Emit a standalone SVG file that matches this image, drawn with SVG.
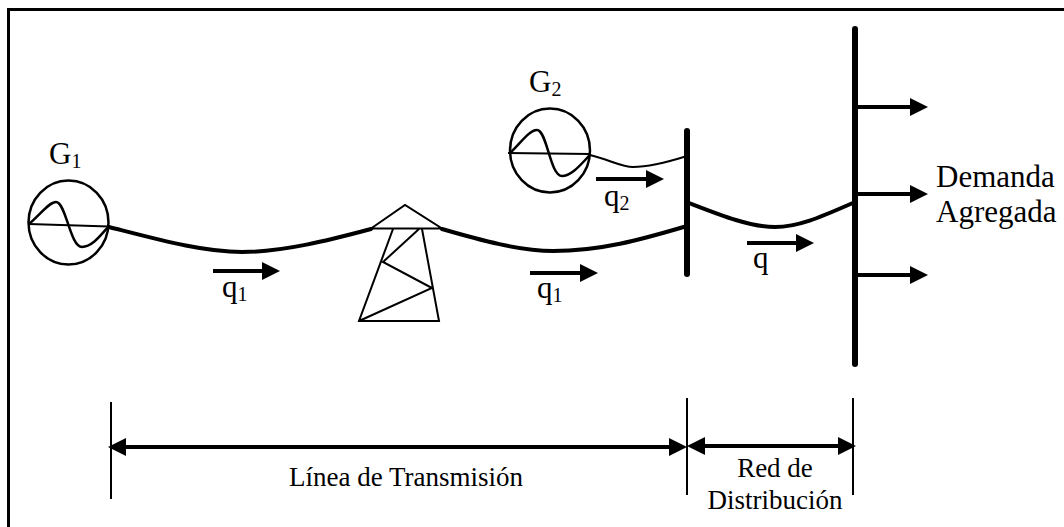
<svg xmlns="http://www.w3.org/2000/svg" width="1064" height="527" viewBox="0 0 1064 527">
<style>
text{font-family:"Liberation Serif","Times New Roman",serif;fill:#000}
.lbl{font-size:31px}
.sub{font-size:20px}
.small{font-size:27px}
.n{fill:none;stroke:#000}
.t1{stroke-width:2}
.w{stroke-width:2.5}
.wire{stroke-width:4;stroke-linecap:round}
.bus{stroke-width:6;stroke-linecap:round}
.arr{stroke-width:4}
</style>
<defs>
<marker id="ah" markerUnits="userSpaceOnUse" markerWidth="18" markerHeight="18" refX="10" refY="9" orient="auto-start-reverse"><path d="M0 0L18 9L0 18Z" fill="#000"/></marker>
</defs>
<rect width="1064" height="527" fill="#fff"/>
<path id="frame" d="M8.5 527V9.5H1064" fill="none" stroke="#000" stroke-width="3"/>
<g id="G1">
<ellipse class="n w" cx="68.5" cy="222.5" rx="40" ry="42"/>
<path class="n t1" d="M29 224L109 226.5"/>
<path class="n w" d="M29 224C40 215 49 202 56 202C66 202 70 247 82 247C92 247 100 236 109 226"/>
<text class="lbl" x="49" y="164">G<tspan class="sub" dy="4">1</tspan></text>
</g>
<g id="G2">
<ellipse class="n w" cx="550" cy="150.5" rx="40" ry="42"/>
<path class="n t1" d="M508 153L590 154"/>
<path class="n w" d="M510 153C520 144 529 130 537 130C547 130 550 176 562 176C572 176 581 164 590 155"/>
<text class="lbl" x="529" y="92">G<tspan class="sub" dy="4">2</tspan></text>
</g>
<g id="tower">
<path class="n t1" d="M371 228.500L405 205L442 228.500ZM393 229L359 321H439L422 229M419 229L383 262L432 288L359 321"/>
</g>
<g id="bus1"><path class="n bus" d="M687 131V274"/></g>
<g id="bus2"><path class="n bus" d="M855 29V364"/></g>
<g id="connectors">
<path class="n wire" d="M109 227C160 240 203 252 242 252C283 252 330 240 371 229"/>
<path class="n wire" d="M442 229C480 240 520 251 553 251C600 251 640 240 687 226"/>
<path class="n" stroke-width="2" d="M590 155C610 160 622 167 633 167C650 167 668 162 687 156"/>
<path class="n wire" d="M689 203C720 215 750 227 775 227C800 227 825 215 855 202"/>
<path class="n arr" marker-end="url(#ah)" d="M213 271H272"/>
<path class="n arr" marker-end="url(#ah)" d="M530 273H590"/>
<path class="n arr" marker-end="url(#ah)" d="M596 179H656"/>
<path class="n arr" marker-end="url(#ah)" d="M747 243H806"/>
<path class="n arr" marker-end="url(#ah)" d="M857 107H920"/>
<path class="n arr" marker-end="url(#ah)" d="M857 194H920"/>
<path class="n arr" marker-end="url(#ah)" d="M857 275H920"/>
<path class="n arr" marker-start="url(#ah)" marker-end="url(#ah)" d="M116 447H679"/>
<path class="n arr" marker-start="url(#ah)" marker-end="url(#ah)" d="M695 446H848"/>
<path class="n t1" d="M111 402V499M687 398V495M853 398V495"/>
</g>
<g id="labels">
<text class="lbl" x="222" y="297">q<tspan class="sub" dy="4">1</tspan></text>
<text class="lbl" x="537" y="298">q<tspan class="sub" dy="4">1</tspan></text>
<text class="lbl" x="604" y="206">q<tspan class="sub" dy="4">2</tspan></text>
<text class="lbl" x="753" y="268">q</text>
<text class="lbl" x="936" y="187">Demanda</text>
<text class="lbl" x="936" y="222">Agregada</text>
<text class="small" x="289" y="486">Línea de Transmisión</text>
<text class="small" text-anchor="middle" x="775" y="477">Red de</text>
<text class="small" text-anchor="middle" x="775" y="509">Distribución</text>
</g>
</svg>
